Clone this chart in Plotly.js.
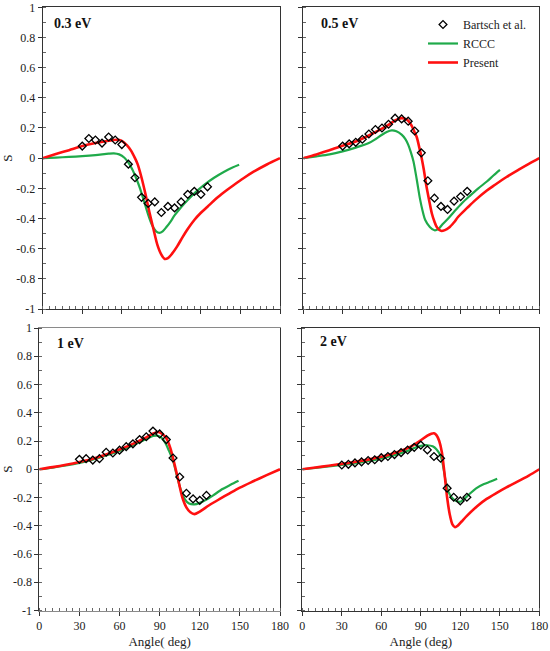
<!DOCTYPE html>
<html>
<head>
<meta charset="utf-8">
<script src="https://cdn.plot.ly/plotly-3.0.1.min.js"></script>
<style>html,body{margin:0;padding:0;background:#fff;}#chart{width:550px;height:651px;}</style>
</head>
<body>
<div id="chart"></div>
<script>
// ---------- data ----------
const panelLabels = ['0.3 eV', '0.5 eV', '1 eV', '2 eV'];
const xTickVals = [0, 30, 60, 90, 120, 150, 180];
const xTickText = ['0', '30', '60', '90', '120', '150', '180'];
const yTickVals = [-1, -0.8, -0.6, -0.4, -0.2, 0, 0.2, 0.4, 0.6, 0.8, 1];
const yTickText = ['-1', '-0.8', '-0.6', '-0.4', '-0.2', '0', '0.2', '0.4', '0.6', '0.8', '1'];

// Bartsch et al. (experiment)
const expAngle = [30, 35, 40, 45, 50, 55, 60, 65, 70, 75, 80, 85, 90, 95, 100, 105, 110, 115, 120, 125];
const expS03 = [0.08, 0.13, 0.12, 0.10, 0.14, 0.12, 0.09, -0.04, -0.13, -0.26, -0.30, -0.29, -0.36, -0.32, -0.33, -0.29, -0.24, -0.22, -0.24, -0.19];
const expS05 = [0.08, 0.095, 0.105, 0.125, 0.16, 0.19, 0.20, 0.225, 0.265, 0.26, 0.245, 0.18, 0.035, -0.15, -0.265, -0.32, -0.34, -0.285, -0.255, -0.22];
const expS1 = [0.07, 0.075, 0.065, 0.075, 0.12, 0.115, 0.135, 0.16, 0.18, 0.21, 0.23, 0.27, 0.25, 0.21, 0.08, -0.055, -0.17, -0.21, -0.22, -0.185];
const expS2 = [0.03, 0.035, 0.045, 0.052, 0.062, 0.067, 0.082, 0.09, 0.104, 0.118, 0.136, 0.155, 0.171, 0.137, 0.09, 0.078, -0.134, -0.198, -0.224, -0.198];

// RCCC
const rcccAngle03 = [0, 10, 20, 30, 40, 50, 54, 58, 62, 65, 68, 71, 74, 77, 80, 83, 86, 88.5, 91, 94, 97, 100, 105, 110, 116, 122, 130, 138, 144, 149];
const rcccS03 = [0, 0.004, 0.008, 0.013, 0.02, 0.03, 0.032, 0.025, 0.003, -0.03, -0.075, -0.135, -0.205, -0.29, -0.375, -0.445, -0.485, -0.495, -0.485, -0.455, -0.42, -0.38, -0.325, -0.277, -0.225, -0.18, -0.13, -0.088, -0.062, -0.044];
const rcccAngle05 = [0, 10, 20, 30, 40, 50, 55, 60, 64, 67.5, 71, 75, 78, 80, 82, 84, 86.5, 89, 91, 93, 96.5, 100, 103, 106, 110.5, 115, 120.8, 127, 133.5, 140, 145, 150];
const rcccS05 = [0, 0.012, 0.025, 0.045, 0.07, 0.1, 0.125, 0.155, 0.175, 0.184, 0.178, 0.156, 0.125, 0.09, 0.04, -0.02, -0.14, -0.27, -0.35, -0.41, -0.456, -0.478, -0.47, -0.44, -0.4, -0.355, -0.3, -0.25, -0.2, -0.155, -0.115, -0.078];
const rcccAngle1 = [0, 10, 20, 30, 40, 50, 60, 70, 80, 85, 88, 91, 94, 97, 100, 103, 106, 109, 112, 116, 120, 125, 130, 137, 143, 149];
const rcccS1 = [0, 0.012, 0.027, 0.045, 0.068, 0.097, 0.13, 0.17, 0.215, 0.235, 0.238, 0.225, 0.19, 0.13, 0.06, -0.05, -0.15, -0.215, -0.243, -0.249, -0.238, -0.215, -0.185, -0.14, -0.11, -0.082];
const rcccAngle2 = [0, 10, 20, 30, 40, 50, 60, 70, 80, 85, 90, 95, 99, 102, 105, 107, 109, 111, 114, 117, 120, 123, 127, 132, 138, 143, 148];
const rcccS2 = [0, 0.01, 0.02, 0.03, 0.042, 0.057, 0.077, 0.1, 0.13, 0.15, 0.165, 0.17, 0.162, 0.14, 0.095, 0.02, -0.09, -0.16, -0.205, -0.225, -0.23, -0.21, -0.175, -0.135, -0.105, -0.087, -0.068];

// Present
const presAngle03 = [0, 10, 20, 30, 40, 50, 56, 60, 64, 67, 70, 72, 75, 78, 81, 84, 87, 90, 92.5, 95, 98, 102, 106, 110, 115, 120, 125, 133, 140, 145, 152, 160, 170, 180];
const presS03 = [0, 0.027, 0.053, 0.08, 0.1, 0.115, 0.122, 0.115, 0.085, 0.05, 0.0, -0.04, -0.13, -0.24, -0.36, -0.47, -0.575, -0.64, -0.668, -0.663, -0.635, -0.585, -0.525, -0.47, -0.41, -0.362, -0.322, -0.258, -0.21, -0.178, -0.135, -0.09, -0.042, 0];
const presAngle05 = [0, 10, 20, 30, 40, 50, 60, 65, 70, 75, 79, 82, 84.5, 86.5, 88.5, 90.3, 92, 94, 96, 98, 100, 102, 105, 108, 111, 115, 118, 125, 131, 140, 146, 155, 164, 172, 180];
const presS05 = [0, 0.025, 0.052, 0.082, 0.11, 0.15, 0.195, 0.22, 0.25, 0.265, 0.255, 0.225, 0.18, 0.14, 0.07, 0, -0.08, -0.19, -0.28, -0.365, -0.42, -0.46, -0.482, -0.477, -0.462, -0.425, -0.39, -0.33, -0.28, -0.215, -0.178, -0.125, -0.078, -0.038, 0];
const presAngle1 = [0, 10, 20, 30, 40, 50, 60, 70, 80, 85, 89, 92, 95, 98, 101, 104, 107, 110, 113, 116, 120, 127, 135, 142, 150, 160, 170, 180];
const presS1 = [0, 0.015, 0.032, 0.052, 0.075, 0.105, 0.14, 0.18, 0.225, 0.252, 0.264, 0.25, 0.22, 0.15, 0.04, -0.08, -0.2, -0.27, -0.305, -0.318, -0.3, -0.255, -0.21, -0.172, -0.13, -0.085, -0.042, 0];
const presAngle2 = [0, 10, 20, 30, 40, 50, 60, 70, 80, 85, 90, 95, 98, 100, 102, 104, 106, 108, 110, 112, 114, 116, 118, 121, 125, 133, 140, 148, 155, 163, 172, 180];
const presS2 = [0, 0.012, 0.025, 0.038, 0.052, 0.068, 0.088, 0.115, 0.15, 0.175, 0.205, 0.238, 0.252, 0.255, 0.24, 0.2, 0.12, -0.03, -0.2, -0.32, -0.39, -0.41, -0.4, -0.37, -0.33, -0.26, -0.21, -0.165, -0.128, -0.09, -0.045, 0];

// ---------- styles ----------
const FONT = '"Liberation Serif", "DejaVu Serif", serif';
const GREEN = '#1faa4a';
const RED = '#ff1010';

const expSets = [expS03, expS05, expS1, expS2];
const rcccA = [rcccAngle03, rcccAngle05, rcccAngle1, rcccAngle2];
const rcccS = [rcccS03, rcccS05, rcccS1, rcccS2];
const presA = [presAngle03, presAngle05, presAngle1, presAngle2];
const presS = [presS03, presS05, presS1, presS2];

const traces = [];
for (let i = 0; i < 4; i++) {
  const xa = i === 0 ? 'x' : 'x' + (i + 1);
  const ya = i === 0 ? 'y' : 'y' + (i + 1);
  const showLeg = i === 1;
  traces.push({
    x: rcccA[i], y: rcccS[i], xaxis: xa, yaxis: ya, type: 'scatter', mode: 'lines',
    name: 'RCCC', legendgroup: 'rccc', legendrank: 2, showlegend: showLeg,
    line: {color: GREEN, width: 2.2, shape: 'spline', smoothing: 0.8}, hoverinfo: 'skip'
  });
  traces.push({
    x: presA[i], y: presS[i], xaxis: xa, yaxis: ya, type: 'scatter', mode: 'lines',
    name: 'Present', legendgroup: 'pres', legendrank: 3, showlegend: showLeg,
    line: {color: RED, width: 2.6, shape: 'spline', smoothing: 0.8}, hoverinfo: 'skip'
  });
  traces.push({
    x: expAngle, y: expSets[i], xaxis: xa, yaxis: ya, type: 'scatter', mode: 'markers',
    name: 'Bartsch et al.', legendgroup: 'exp', legendrank: 1, showlegend: showLeg,
    marker: {symbol: 'diamond-open', size: 6, color: '#000', line: {color: '#000', width: 1.3}}, hoverinfo: 'skip'
  });
}

function xAxis(domain, showLabels, title, lineColor) {
  const ax = {
    domain: domain, range: [0, 180], tickmode: 'array', tickvals: xTickVals, ticktext: xTickText,
    ticks: 'outside', ticklen: 4, tickcolor: '#333', tickwidth: 1,
    showline: true, linecolor: lineColor || '#333', linewidth: 1, mirror: true,
    showgrid: false, zeroline: false, showticklabels: showLabels,
    tickfont: {family: FONT, size: 12, color: '#222'},
    minor: {tickmode: 'linear', tick0: 0, dtick: 5, ticks: 'inside', ticklen: 3, tickcolor: '#666', showgrid: false},
    fixedrange: true
  };
  if (title) ax.title = {text: title, font: {family: FONT, size: 13, color: '#222'}, standoff: 4};
  return ax;
}
function yAxis(domain, anchor, showLabels) {
  const ax = {
    domain: domain, anchor: anchor, range: [-1, 1], tickmode: 'array', tickvals: yTickVals, ticktext: yTickText,
    ticks: 'outside', ticklen: 4, tickcolor: '#333', tickwidth: 1,
    showline: true, linecolor: '#333', linewidth: 1, mirror: true,
    showgrid: false, zeroline: false, showticklabels: showLabels,
    tickfont: {family: FONT, size: 12, color: '#222'},
    minor: {tickmode: 'linear', tick0: 0, dtick: 0.1, ticks: 'inside', ticklen: 3, tickcolor: '#666', showgrid: false},
    fixedrange: true
  };
  if (showLabels) ax.title = {text: 'S', font: {family: FONT, size: 13, color: '#222'}, standoff: 6};
  return ax;
}

const W = 550, H = 651;
const dxTL = [42.7 / W, 280 / W];
const dxTR = [303.3 / W, 539.3 / W];
const dxBL = [39.3 / W, 280 / W];
const dxBR = [302.3 / W, 539.3 / W];
const dyT = [1 - 309 / H, 1 - 7.3 / H];
const dyB = [1 - 610.5 / H, 1 - 328 / H];

const xa1 = xAxis(dxTL, false); xa1.anchor = 'y';
const xa2 = xAxis(dxTR, false); xa2.anchor = 'y2';
const xa3 = xAxis(dxBL, true, 'Angle( deg)', '#8a8a8a'); xa3.anchor = 'y3';
const xa4 = xAxis(dxBR, true, 'Angle (deg)'); xa4.anchor = 'y4';

const labelPos = [[52, 24], [319, 23], [55, 343], [318, 342]];
const annotations = panelLabels.map((t, i) => ({
  text: '<b>' + t + '</b>', xref: 'paper', yref: 'paper',
  x: labelPos[i][0] / W, y: 1 - labelPos[i][1] / H, xanchor: 'left', yanchor: 'middle',
  showarrow: false, font: {family: FONT, size: 14, color: '#111'}
}));

const layout = {
  width: W, height: H,
  margin: {l: 0, r: 0, t: 0, b: 0, pad: 0},
  paper_bgcolor: '#fff', plot_bgcolor: '#fff',
  showlegend: true,
  legend: {
    x: 423 / W, y: 1 - 10 / H, xanchor: 'left', yanchor: 'top',
    bgcolor: 'rgba(0,0,0,0)', borderwidth: 0,
    font: {family: FONT, size: 12, color: '#222'}, traceorder: 'normal', tracegroupgap: 0
  },
  xaxis: xa1, yaxis: yAxis(dyT, 'x', true),
  xaxis2: xa2, yaxis2: yAxis(dyT, 'x2', false),
  xaxis3: xa3, yaxis3: yAxis(dyB, 'x3', true),
  xaxis4: xa4, yaxis4: yAxis(dyB, 'x4', false),
  annotations: annotations
};

Plotly.newPlot('chart', traces, layout, {displayModeBar: false, staticPlot: true});
</script>
</body>
</html>
